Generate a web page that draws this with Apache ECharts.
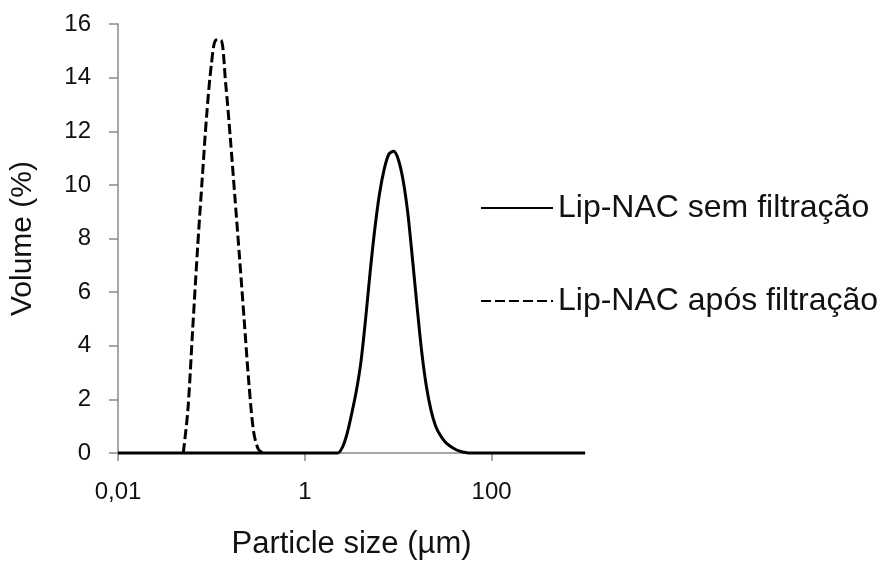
<!DOCTYPE html>
<html>
<head>
<meta charset="utf-8">
<script src="https://cdn.jsdelivr.net/npm/echarts@6/dist/echarts.min.js"></script>
<style>
  html, body { margin: 0; padding: 0; background: #fff; }
  #chart { width: 881px; height: 565px; }
</style>
</head>
<body>
<div id="chart"></div>
<script>
// particle size bins (µm) and volume (%)
var sizesSem = [0.01, 2.0, 2.244, 2.518, 2.825, 3.17, 3.557, 3.991, 4.477, 5.024, 5.637, 6.325, 7.096, 7.962, 8.934,
  10.024, 11.247, 12.619, 14.159, 15.887, 17.825, 20.0, 22.44, 25.179, 28.251, 31.698, 35.566, 39.905, 44.774,
  50.238, 56.368, 1000];
var volumeSem = [0, 0, 0, 0.2, 0.7, 1.45, 2.3, 3.4, 5.0, 6.8, 8.4, 9.7, 10.6, 11.15, 11.25,
  10.95, 10.2, 9.0, 7.3, 5.5, 3.8, 2.5, 1.6, 1.0, 0.66, 0.42, 0.27, 0.16, 0.08,
  0.03, 0, 0];

var sizesApos = [0.05, 0.056, 0.063, 0.071, 0.08, 0.089, 0.1, 0.112, 0.126, 0.142, 0.159, 0.178, 0.2,
  0.224, 0.252, 0.283, 0.317, 0.356];
var volumeApos = [0, 1.6, 4.6, 7.6, 10.3, 12.6, 14.5, 15.4, 15.4, 13.8, 11.8, 9.6, 7.3,
  5.0, 2.6, 0.8, 0.15, 0];

var xTicks = [0.01, 1, 100];
var seriesNames = ['Lip-NAC sem filtração', 'Lip-NAC após filtração'];

function pairs(xs, ys) {
  return xs.map(function (x, i) { return [x, ys[i]]; });
}

var font = 'Liberation Sans, Arial, sans-serif';
var axisGrey = '#8a8a8a';

var chart = echarts.init(document.getElementById('chart'));
chart.setOption({
  animation: false,
  backgroundColor: '#fff',
  grid: { left: 118, right: 296, top: 24, bottom: 112 },
  legend: {
    orient: 'vertical',
    left: 480,
    top: 192,
    padding: 0,
    itemWidth: 72,
    itemHeight: 14,
    itemGap: 61,
    data: seriesNames,
    itemStyle: { opacity: 0 },
    textStyle: { fontFamily: font, fontSize: 32, color: '#111' }
  },
  xAxis: {
    type: 'log',
    logBase: 10,
    min: 0.01,
    max: 1000,
    name: 'Particle size (µm)',
    nameLocation: 'middle',
    nameGap: 76,
    nameTextStyle: { fontFamily: font, fontSize: 31, color: '#111' },
    axisLine: { show: true, lineStyle: { color: axisGrey, width: 1.5 } },
    axisTick: { show: true, inside: false, length: 8, customValues: xTicks, lineStyle: { color: axisGrey, width: 1.5 } },
    axisLabel: {
      customValues: xTicks,
      margin: 27,
      fontFamily: font,
      fontSize: 24,
      color: '#111',
      formatter: function (v) { return String(v).replace('.', ','); }
    },
    splitLine: { show: false },
    minorTick: { show: false }
  },
  yAxis: {
    type: 'value',
    min: 0,
    max: 16,
    interval: 2,
    name: 'Volume (%)',
    nameLocation: 'middle',
    nameGap: 80,
    nameTextStyle: { fontFamily: font, fontSize: 30, color: '#111' },
    axisLine: { show: true, lineStyle: { color: axisGrey, width: 1.5 } },
    axisTick: { show: true, inside: false, length: 9, lineStyle: { color: axisGrey, width: 1.5 } },
    axisLabel: { margin: 27, fontFamily: font, fontSize: 24, color: '#111' },
    splitLine: { show: false }
  },
  series: [
    {
      name: seriesNames[0],
      type: 'line',
      z: 3,
      clip: false,
      symbol: 'none',
      smooth: 0.3,
      data: pairs(sizesSem, volumeSem),
      lineStyle: { color: '#000', width: 3, type: 'solid' },
      itemStyle: { color: '#000' }
    },
    {
      name: seriesNames[1],
      type: 'line',
      z: 2,
      clip: false,
      symbol: 'none',
      smooth: 0.3,
      data: pairs(sizesApos, volumeApos),
      lineStyle: { color: '#000', width: 3, type: [10, 4] },
      itemStyle: { color: '#000' }
    }
  ]
});
</script>
</body>
</html>
